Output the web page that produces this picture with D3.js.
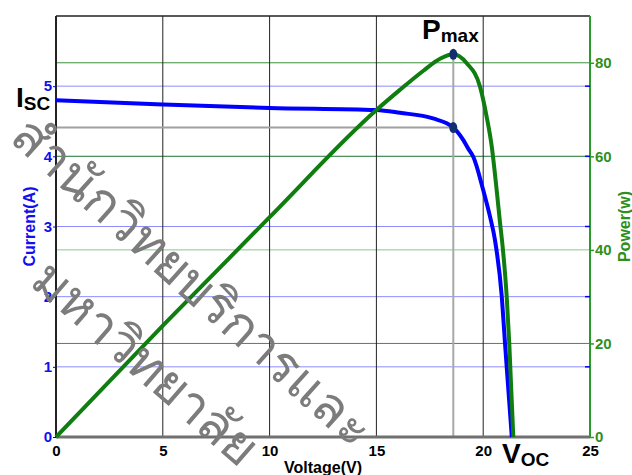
<!DOCTYPE html>
<html><head><meta charset="utf-8">
<script src="https://cdn.jsdelivr.net/npm/d3@7"></script>
<style>
body{margin:0;background:#fff}
svg{display:block}
text{font-family:"Liberation Sans",Arial,Helvetica,sans-serif}
</style>
</head><body>
<svg id="chart" width="632" height="475"></svg>
<script>
// ---- data ----
const ivVoltage = [0, 5, 10, 15, 16.1, 17.65, 18.6, 19.07, 19.3, 19.54, 20.0, 20.32, 20.55, 20.87, 21.02, 21.1, 21.34];
const ivCurrent = [4.80, 4.74, 4.69, 4.66, 4.62, 4.54, 4.41, 4.23, 4.11, 3.99, 3.52, 3.14, 2.81, 2.0, 1.34, 1.0, 0];
const pvVoltage = [0, 5, 10, 15, 16.1, 17.2, 18.0, 18.6, 19.23, 19.85, 20.16, 20.4, 20.63, 20.79, 20.91, 21.1, 21.22, 21.41];
const pvPower   = [0, 23.8, 47.0, 69.9, 74.2, 78.3, 80.9, 81.8, 79.9, 74.9, 68.5, 62.1, 52.8, 45.7, 40.7, 30.0, 20.0, 0];
const voltageTicks = [0, 5, 10, 15, 20, 25];
const currentTicks = [0, 1, 2, 3, 4, 5];
const powerTicks = [0, 20, 40, 60, 80];
const mppVoltage = 18.6, mppCurrent = 4.41, mppPower = 81.8;
const xTitle = "Voltage(V)", yLeftTitle = "Current(A)", yRightTitle = "Power(w)";
const watermark1 = "สำนักวิทยบริการและ", watermark2 = "มหาวิทยาลัย";

// ---- layout ----
const W = 632, H = 475;
const m = {l: 56, t: 16, r: 42, b: 38};
const svg = d3.select("#chart");
const x = d3.scaleLinear().domain([0, 25]).range([m.l, W - m.r]);
const yI = d3.scaleLinear().domain([0, 6]).range([H - m.b, m.t]);
const yP = d3.scaleLinear().domain([0, 90]).range([H - m.b, m.t]);
const BLUE = "#0000ff", GREEN = "#0f7d0f", LBL_GREEN = "#2f8f1c";

const g = svg.append("g");
// gridlines
g.selectAll(".gi").data(currentTicks.filter(d => d > 0)).join("line")
  .attr("x1", x(0)).attr("x2", x(25)).attr("y1", d => yI(d)).attr("y2", d => yI(d))
  .attr("stroke", "#8c8cff").attr("stroke-width", 1);
g.selectAll(".gp").data(powerTicks.filter(d => d > 0)).join("line")
  .attr("x1", x(0)).attr("x2", x(25)).attr("y1", d => yP(d)).attr("y2", d => yP(d))
  .attr("stroke", d => d === 40 ? "#8cc48c" : "#3f8f3f").attr("stroke-width", 1);
g.selectAll(".gv").data(voltageTicks.filter(d => d > 0 && d < 25)).join("line")
  .attr("x1", d => x(d)).attr("x2", d => x(d)).attr("y1", yI(0)).attr("y2", yI(6))
  .attr("stroke", "#222").attr("stroke-width", 1);

// MPP guide lines
g.append("line").attr("x1", x(0)).attr("x2", x(mppVoltage)).attr("y1", yI(mppCurrent)).attr("y2", yI(mppCurrent))
  .attr("stroke", "#a0a0a0").attr("stroke-width", 2);
g.append("line").attr("x1", x(mppVoltage)).attr("x2", x(mppVoltage)).attr("y1", yP(mppPower)).attr("y2", yI(0))
  .attr("stroke", "#a8a8a8").attr("stroke-width", 2);

// borders
g.append("line").attr("x1", x(0)).attr("x2", x(25)).attr("y1", yI(6)).attr("y2", yI(6)).attr("stroke", "#222").attr("stroke-width", 1.5);
g.append("line").attr("x1", x(0)).attr("x2", x(0)).attr("y1", yI(6)).attr("y2", yI(0)).attr("stroke", "#222").attr("stroke-width", 2);
g.append("line").attr("x1", x(25)).attr("x2", x(25)).attr("y1", yI(6)).attr("y2", yI(0)).attr("stroke", "#2a9a2a").attr("stroke-width", 2);
g.append("line").attr("x1", x(0)).attr("x2", x(25)).attr("y1", yI(0)).attr("y2", yI(0)).attr("stroke", "#707070").attr("stroke-width", 3);

// axes
const axL = svg.append("g").attr("transform", `translate(${x(0)},0)`)
  .call(d3.axisLeft(yI).tickValues(currentTicks).tickSize(3).tickPadding(1).tickFormat(d3.format("d")));
axL.select(".domain").remove();
axL.selectAll("line").attr("stroke", BLUE);
axL.selectAll("text").attr("fill", "#1010ee").attr("font-size", 15).attr("font-weight", "bold");

const axB = svg.append("g").attr("transform", `translate(0,${yI(0)})`)
  .call(d3.axisBottom(x).tickValues(voltageTicks).tickSize(0).tickPadding(8).tickFormat(d3.format("d")));
axB.select(".domain").remove();
axB.selectAll("text").attr("fill", "#000").attr("font-size", 15).attr("font-weight", "bold");

const axR = svg.append("g").attr("transform", `translate(${x(25)},0)`)
  .call(d3.axisRight(yP).tickValues(powerTicks).tickSize(4).tickPadding(1).tickFormat(d3.format("d")));
axR.select(".domain").remove();
axR.selectAll("line").attr("stroke", "#2a9a2a").attr("stroke-width", 1.5);
axR.selectAll("text").attr("fill", LBL_GREEN).attr("font-size", 15).attr("font-weight", "bold");
// small blue current ticks on the right border
svg.selectAll(".rt").data(currentTicks.filter(d => d > 0)).join("line")
  .attr("x1", x(25) - 5).attr("x2", x(25)).attr("y1", d => yI(d)).attr("y2", d => yI(d))
  .attr("stroke", BLUE).attr("stroke-width", 1.5);

// curves
const ivData = ivVoltage.map((v, i) => [v, ivCurrent[i]]);
const pvData = pvVoltage.map((v, i) => [v, pvPower[i]]);
svg.append("path").datum(ivData)
  .attr("d", d3.line().x(d => x(d[0])).y(d => yI(d[1])).curve(d3.curveMonotoneX))
  .attr("fill", "none").attr("stroke", BLUE).attr("stroke-width", 4);
svg.append("path").datum(pvData)
  .attr("d", d3.line().x(d => x(d[0])).y(d => yP(d[1])).curve(d3.curveMonotoneX))
  .attr("fill", "none").attr("stroke", GREEN).attr("stroke-width", 4);

// MPP dots
svg.append("ellipse").attr("cx", x(mppVoltage)).attr("cy", yP(mppPower)).attr("rx", 4).attr("ry", 5.5).attr("fill", "#13306e");
svg.append("ellipse").attr("cx", x(mppVoltage)).attr("cy", yI(mppCurrent)).attr("rx", 4).attr("ry", 5.5).attr("fill", "#13306e");

// axis titles
svg.append("text").attr("transform", `translate(34.5,${(yI(0) + yI(6)) / 2}) rotate(-90)`)
  .attr("text-anchor", "middle").attr("font-size", 16).attr("font-weight", "bold").attr("fill", "#1010ee").text(yLeftTitle);
svg.append("text").attr("transform", `translate(630,${(yI(0) + yI(6)) / 2}) rotate(-90)`)
  .attr("text-anchor", "middle").attr("font-size", 16).attr("font-weight", "bold").attr("fill", LBL_GREEN).text(yRightTitle);
svg.append("text").attr("x", (x(0) + x(25)) / 2).attr("y", 473).attr("text-anchor", "middle")
  .attr("font-size", 16).attr("font-weight", "bold").attr("fill", "#000").text(xTitle);

// annotations
function subLabel(px, py, main, sub) {
  const t = svg.append("text").attr("x", px).attr("y", py).attr("font-weight", "bold").attr("fill", "#000");
  t.append("tspan").attr("font-size", 28).text(main);
  t.append("tspan").attr("font-size", 19).attr("dy", 3).text(sub);
}
subLabel(16, 107, "I", "SC");
subLabel(422, 39, "P", "max");
subLabel(502, 463, "V", "OC");

// watermark
const wm = svg.append("g").attr("fill", "#7c7c7c").attr("font-size", 52)
  .attr("style", "font-family:'Noto Sans Thai','Noto Sans',sans-serif;font-weight:300");
wm.append("text").attr("transform", "translate(8,140) rotate(42)").text(watermark1);
wm.append("text").attr("transform", "translate(28,284) rotate(41)").text(watermark2);
</script>
</body></html>
